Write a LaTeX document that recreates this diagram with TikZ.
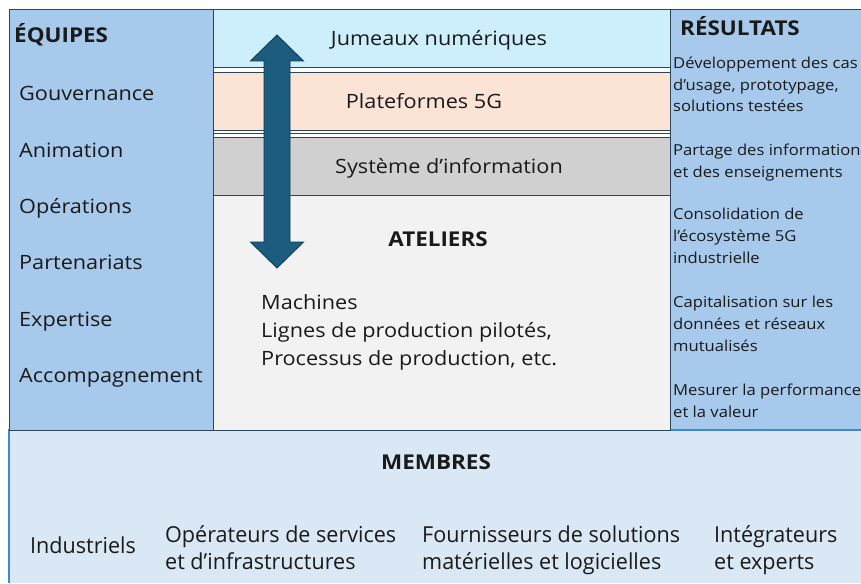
\documentclass[tikz,border=0pt]{standalone}
\usepackage{fontspec}
\setmainfont{Open Sans}[FakeStretch=1.1]
\newfontfamily\narrowfont[FakeStretch=0.98]{Open Sans}

\definecolor{teamblue}{HTML}{A7C9EB}
\definecolor{memberblue}{HTML}{DAE8F6}
\definecolor{twinblue}{HTML}{CDEEFB}
\definecolor{platpeach}{HTML}{FBE3D6}
\definecolor{sigray}{HTML}{D0D0D0}
\definecolor{shopgray}{HTML}{F2F2F2}
\definecolor{edge}{HTML}{2B4656}
\definecolor{lineblue}{HTML}{3F88CF}
\definecolor{arrowfill}{HTML}{1C5C7E}
\definecolor{arrowedge}{HTML}{0F3C55}
\definecolor{ink}{HTML}{1A1A1A}

\begin{document}
\begin{tikzpicture}[x=1pt,y=-1pt,text=ink]
  \tikzstyle{panel} = [draw=edge,line width=0.9pt]
  \tikzstyle{layer} = [draw=edge,line width=0.9pt]
  \tikzstyle{flow}  = [draw=arrowedge,line width=0.9pt,fill=arrowfill,line join=miter]
  \tikzstyle{title} = [inner sep=0,anchor=base,font=\bfseries\fontsize{20.4}{24}\selectfont]
  \tikzstyle{item}  = [inner sep=0,anchor=base west,font=\fontsize{19.7}{28}\selectfont]
  \tikzstyle{result} = [inner sep=0,anchor=base west,align=left,
                        font=\fontsize{15.1}{21.6}\selectfont]
  \tikzstyle{member} = [inner sep=0,anchor=base west,align=left,
                        font=\narrowfont\fontsize{22}{27}\selectfont]

  \useasboundingbox (0,0) rectangle (861,583);

  % members along the bottom
  \fill[memberblue] (9,430) rectangle (861,583);
  \draw[lineblue,line width=1.2pt] (9,583) -- (9,430) -- (861,430);

  % teams and results columns
  \draw[panel,fill=teamblue] (9,9) rectangle (213,430);
  \draw[panel,fill=teamblue] (670,9) rectangle (870,430);
  \draw[lineblue,line width=1.2pt] (670,430) -- (861,430);

  % stacked layers in the middle
  \draw[layer,fill=shopgray] (213,195) rectangle (670,430);
  \draw[layer,fill=sigray] (213,137) rectangle (670,195);
  \draw[layer,fill=platpeach] (213,72) rectangle (670,130);
  \draw[layer] (213,133) -- (670,133);
  \draw[layer,fill=twinblue] (213,9) rectangle (670,67);

  % two-way arrow across the layers
  \draw[flow] (277,35) -- (303.5,61) -- (290,61) -- (290,242) -- (303.5,242)
    -- (277,268) -- (250.5,242) -- (264,242) -- (264,61) -- (250.5,61) -- cycle;

  \node[title,anchor=base west] (teams) at (14,43) {ÉQUIPES};
  \node[item] (gov) at (19,101) {Gouvernance};
  \node[item] (anim) at (19,157) {Animation};
  \node[item] (ops) at (19,213) {Opérations};
  \node[item] (part) at (19,269) {Partenariats};
  \node[item] (exp) at (19,326) {Expertise};
  \node[item] (acc) at (19,382) {Accompagnement};

  \node[item,anchor=base] (twins) at (439,46) {Jumeaux numériques};
  \node[item,anchor=base] (plat) at (424,109) {Plateformes 5G};
  \node[item,anchor=base] (si) at (449,173) {Système d’information};
  \node[title] (shops) at (438,246) {ATELIERS};
  \node[item,align=left] (machines) at (261,365)
    {Machines\\Lignes de production pilotés,\\Processus de production, etc.};

  \node[title,anchor=base west] (results) at (680,36) {RÉSULTATS};
  \node[result] (r1) at (673,112) {Développement des cas\\d’usage, prototypage,\\solutions testées};
  \node[result] (r2) at (673,177) {Partage des informations\\et des enseignements};
  \node[result] (r3) at (673,263) {Consolidation de\\l’écosystème 5G\\industrielle};
  \node[result] (r4) at (673,351) {Capitalisation sur les\\données et réseaux\\mutualisés};
  \node[result] (r5) at (673,417) {Mesurer la performance\\et la valeur};

  \node[title] (members) at (436,469) {MEMBRES};
  \node[member] (ind) at (30,553) {Industriels};
  \node[member] (oper) at (165,569) {Opérateurs de services\\et d’infrastructures};
  \node[member] (supp) at (422,569) {Fournisseurs de solutions\\matérielles et logicielles};
  \node[member] (integ) at (714,569) {Intégrateurs\\et experts};
\end{tikzpicture}
\end{document}
